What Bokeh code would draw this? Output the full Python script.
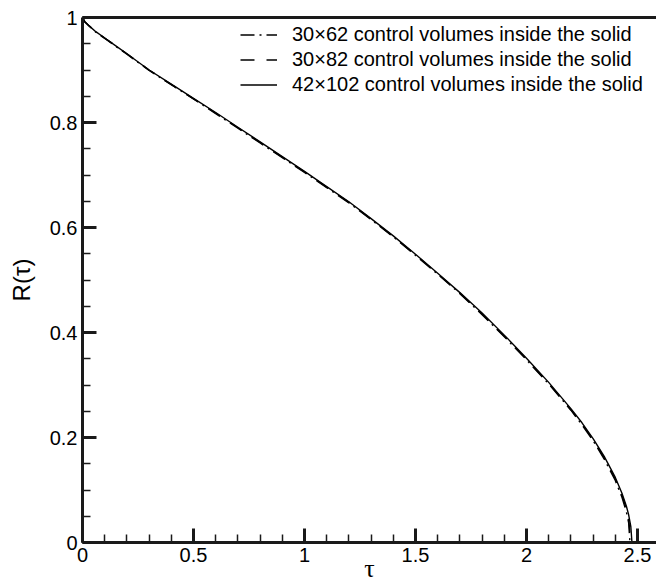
import math
from bokeh.plotting import figure
from bokeh.models import Range1d, FixedTicker, LinearAxis, Legend, LegendItem
from bokeh.embed import file_html
from bokeh.resources import INLINE

# ---- data ----
x_ticks = [0, 0.5, 1, 1.5, 2, 2.5]
x_tick_labels = ["0", "0.5", "1", "1.5", "2", "2.5"]
y_ticks = [0, 0.2, 0.4, 0.6, 0.8, 1]
y_tick_labels = ["0", "0.2", "0.4", "0.6", "0.8", "1"]
x_minor = [round(0.1 * i, 2) for i in range(26)]
y_minor = [round(0.05 * i, 2) for i in range(21)]

series_names = [
    "30\u00d762 control volumes inside the solid",
    "30\u00d782 control volumes inside the solid",
    "42\u00d7102 control volumes inside the solid",
]

tau_30x62 = [0, 0.01, 0.03, 0.06, 0.1, 0.15, 0.2, 0.3, 0.4, 0.5, 0.6, 0.7, 0.8, 0.9, 1.0, 1.1,
             1.2, 1.3, 1.4, 1.5, 1.6, 1.7, 1.8, 1.9, 2.0, 2.1, 2.2, 2.25, 2.3, 2.35, 2.4, 2.43,
             2.45, 2.46, 2.466]
R_30x62 = [1.000, 0.992, 0.984, 0.972, 0.960, 0.945, 0.930, 0.899, 0.872, 0.845, 0.817, 0.789,
           0.761, 0.733, 0.705, 0.676, 0.647, 0.615, 0.582, 0.547, 0.511, 0.474, 0.434, 0.392,
           0.348, 0.302, 0.252, 0.224, 0.194, 0.159, 0.118, 0.086, 0.058, 0.038, 0.0]

tau_30x82 = [0, 0.01, 0.03, 0.06, 0.1, 0.15, 0.2, 0.3, 0.4, 0.5, 0.6, 0.7, 0.8, 0.9, 1.0, 1.1,
             1.2, 1.3, 1.4, 1.5, 1.6, 1.7, 1.8, 1.9, 2.0, 2.1, 2.2, 2.25, 2.3, 2.35, 2.4, 2.43,
             2.45, 2.46, 2.47]
R_30x82 = [1.000, 0.992, 0.984, 0.973, 0.961, 0.946, 0.931, 0.900, 0.872, 0.845, 0.818, 0.790,
           0.762, 0.734, 0.706, 0.677, 0.648, 0.616, 0.583, 0.548, 0.512, 0.475, 0.435, 0.393,
           0.349, 0.303, 0.253, 0.226, 0.196, 0.161, 0.121, 0.090, 0.064, 0.046, 0.0]

tau_42x102 = [0, 0.01, 0.03, 0.06, 0.1, 0.15, 0.2, 0.3, 0.4, 0.5, 0.6, 0.7, 0.8, 0.9, 1.0, 1.1,
              1.2, 1.3, 1.4, 1.5, 1.6, 1.7, 1.8, 1.9, 2.0, 2.1, 2.2, 2.25, 2.3, 2.35, 2.4, 2.43,
              2.45, 2.46, 2.47, 2.475]
R_42x102 = [1.000, 0.992, 0.984, 0.973, 0.961, 0.946, 0.931, 0.900, 0.873, 0.846, 0.819, 0.791,
            0.763, 0.735, 0.707, 0.678, 0.649, 0.617, 0.584, 0.549, 0.513, 0.476, 0.437, 0.395,
            0.351, 0.305, 0.255, 0.228, 0.198, 0.164, 0.124, 0.094, 0.069, 0.053, 0.030, 0.0]

x_label = "\u03c4"
y_label = "R(\u03c4)"

# ---- figure ----
FONT = "Liberation Sans"
AX = "#1a1a1a"

p = figure(width=656, height=585, output_backend="svg", toolbar_location=None,
           x_range=Range1d(0, 2.5856), y_range=Range1d(0, 1),
           min_border_left=82, min_border_right=0, min_border_top=17, min_border_bottom=43,
           x_axis_type=None, y_axis_type=None)
p.outline_line_color = None
p.xgrid.visible = False
p.ygrid.visible = False
p.background_fill_color = "white"
p.border_fill_color = "white"


def style_axis(ax, ticks, labels, minor):
    ax.ticker = FixedTicker(ticks=ticks, minor_ticks=minor)
    ax.major_label_overrides = {t: l for t, l in zip(ticks, labels)}
    ax.axis_line_width = 3
    ax.axis_line_color = AX
    ax.major_tick_in = 14
    ax.major_tick_out = 0
    ax.major_tick_line_width = 3
    ax.major_tick_line_color = AX
    ax.minor_tick_in = 8
    ax.minor_tick_out = 0
    ax.minor_tick_line_width = 1.5
    ax.minor_tick_line_color = AX
    ax.major_label_text_font = FONT
    ax.major_label_text_font_size = "20px"
    ax.major_label_text_color = "black"
    ax.major_label_standoff = 5
    ax.axis_label_text_color = "black"
    ax.axis_label_text_font_style = "normal"


xa = LinearAxis(axis_label=x_label)
style_axis(xa, x_ticks, x_tick_labels, x_minor)
xa.axis_label_text_font = "Liberation Serif"
xa.axis_label_text_font_size = "26px"
xa.axis_label_text_line_height = 1.0
xa.axis_label_standoff = -11
p.add_layout(xa, "below")

ya = LinearAxis(axis_label=y_label)
style_axis(ya, y_ticks, y_tick_labels, y_minor)
ya.axis_label_text_font = FONT
ya.axis_label_text_font_size = "24px"
ya.axis_label_standoff = 12
p.add_layout(ya, "left")

top = LinearAxis(major_label_text_font_size="0px", major_tick_in=0, major_tick_out=0,
                 minor_tick_in=0, minor_tick_out=0, axis_line_width=3, axis_line_color=AX,
                 major_label_standoff=0)
top.ticker = FixedTicker(ticks=[])
p.add_layout(top, "above")

r1 = p.line(tau_30x62, R_30x62, line_color="black", line_width=1.4, line_dash="14 5 2 5")
r2 = p.line(tau_30x82, R_30x82, line_color="black", line_width=1.4, line_dash="14 12")
r3 = p.line(tau_42x102, R_42x102, line_color="black", line_width=1.4)

legend = Legend(items=[LegendItem(label=series_names[0], renderers=[r1]),
                       LegendItem(label=series_names[1], renderers=[r2]),
                       LegendItem(label=series_names[2], renderers=[r3])],
                location=(158, 445))
legend.border_line_color = None
legend.background_fill_alpha = 0
legend.padding = 0
legend.margin = 0
legend.spacing = 0
legend.glyph_width = 37
legend.glyph_height = 25
legend.label_height = 25
legend.label_standoff = 15
legend.label_text_font = FONT
legend.label_text_font_size = "20px"
legend.label_text_color = "black"
p.add_layout(legend)

open("out.html", "w").write(file_html(p, INLINE))
